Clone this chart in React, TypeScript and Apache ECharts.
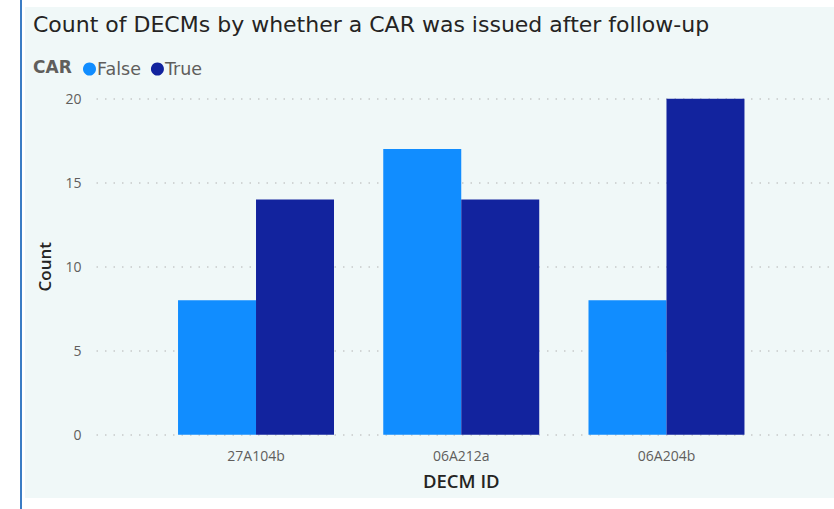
import React, { useEffect, useRef } from "react";
import * as echarts from "echarts";

const categories = ["27A104b", "06A212a", "06A204b"];
const falseCounts = [8, 17, 8];
const trueCounts = [14, 14, 20];
const yTicks = { min: 0, max: 20, interval: 5 };

const FONT = "'Open Sans', 'Noto Sans', sans-serif";
const WIDE = "'DejaVu Sans', 'Open Sans', sans-serif";

export default function App() {
  const ref = useRef<HTMLDivElement>(null);

  useEffect(() => {
    if (!ref.current) return;
    const chart = echarts.init(ref.current, undefined, { renderer: "svg" });
    const top = 98.7;
    const bottom = 509 - 434.7;
    chart.setOption({
      animation: false,
      backgroundColor: "#ffffff",
      graphic: [
        { type: "rect", shape: { x: 25, y: 7, width: 809, height: 491 }, style: { fill: "#f0f8f8" }, z: -10 },
        { type: "rect", shape: { x: 20, y: 0, width: 2, height: 509 }, style: { fill: "#3b7cc4" }, z: -10 },
        {
          type: "text",
          x: 33,
          y: 67,
          style: {
            text: "CAR",
            fontFamily: WIDE,
            fontSize: 17,
            fontWeight: "bold",
            fill: "#605E5C",
            verticalAlign: "middle",
          },
        },
        {
          type: "text",
          x: 33,
          y: 24,
          style: {
            text: "Count of DECMs by whether a CAR was issued after follow-up",
            fontFamily: WIDE,
            fontSize: 22,
            fill: "#252423",
            verticalAlign: "middle",
          },
        },
      ],
      legend: {
        left: 83,
        top: 60,
        padding: 0,
        icon: "circle",
        itemWidth: 13,
        itemHeight: 13,
        itemGap: 10,
        textStyle: { fontFamily: WIDE, fontSize: 17.5, color: "#605E5C", padding: [0, 0, 7, -4] },
        data: ["False", "True"],
      },
      grid: [
        { left: 96.5, right: 0, top, bottom },
        { left: 153.4, right: 834 - 769.1, top, bottom },
      ],
      xAxis: [
        {
          gridIndex: 0,
          type: "category",
          data: categories,
          show: false,
        },
        {
          gridIndex: 1,
          type: "category",
          data: categories,
          axisLine: { show: false },
          axisTick: { show: false },
          axisLabel: { fontFamily: FONT, fontSize: 14, color: "#605E5C", margin: 14 },
          name: "DECM ID",
          nameLocation: "middle",
          nameGap: 36,
          nameTextStyle: { fontFamily: FONT, fontSize: 18.5, fontWeight: 600, color: "#252423" },
        },
      ],
      yAxis: [
        {
          gridIndex: 0,
          type: "value",
          ...yTicks,
          axisLine: { show: false },
          axisTick: { show: false },
          axisLabel: { fontFamily: FONT, fontSize: 14, color: "#605E5C", margin: 15 },
          splitLine: { lineStyle: { color: "#c6c9c9", type: [1.5, 7], width: 1.5 } },
          name: "Count",
          nameLocation: "middle",
          nameRotate: 90,
          nameGap: 44,
          nameTextStyle: { fontFamily: FONT, fontSize: 17, fontWeight: 600, color: "#252423" },
        },
        {
          gridIndex: 1,
          type: "value",
          ...yTicks,
          show: false,
          splitLine: { show: false },
        },
      ],
      series: [
        {
          name: "False",
          type: "bar",
          xAxisIndex: 1,
          yAxisIndex: 1,
          data: falseCounts,
          itemStyle: { color: "#118DFF" },
          barGap: "0%",
          barCategoryGap: "24%",
        },
        {
          name: "True",
          type: "bar",
          xAxisIndex: 1,
          yAxisIndex: 1,
          data: trueCounts,
          itemStyle: { color: "#12239E" },
          barGap: "0%",
          barCategoryGap: "24%",
        },
      ],
    });
    return () => chart.dispose();
  }, []);

  return (
    <div
      ref={ref}
      style={{ position: "absolute", left: 0, top: 0, width: 834, height: 509 }}
    />
  );
}
